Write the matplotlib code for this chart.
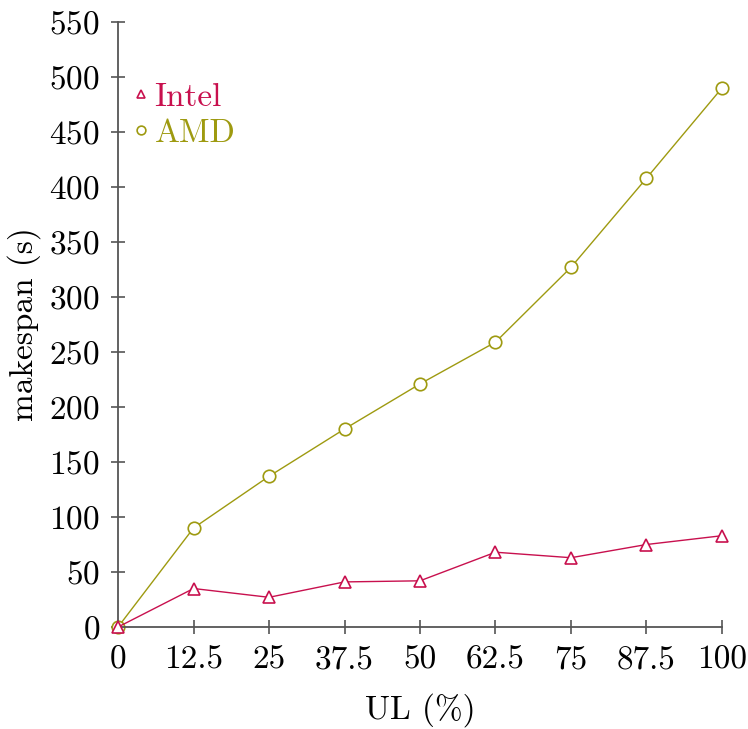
import matplotlib
matplotlib.use("Agg")
import matplotlib.pyplot as plt

ul = [0, 12.5, 25, 37.5, 50, 62.5, 75, 87.5, 100]
intel = [0, 35, 27, 41, 42, 68, 63, 75, 83]
amd = [0, 90, 137, 180, 221, 259, 327, 408, 490]
xtick_labels = ["0", "12.5", "25", "37.5", "50", "62.5", "75", "87.5", "100"]
yticks = list(range(0, 551, 50))

plt.rcParams['font.family'] = ['cmr10', 'DejaVu Serif']
plt.rcParams['mathtext.fontset'] = 'cm'
plt.rcParams['axes.formatter.use_mathtext'] = True

intel_c = '#c8104e'
amd_c = '#9e9a10'

fig = plt.figure(figsize=(7.48, 7.29), dpi=100)
ax = fig.add_axes([0.1578, 0.1399, 0.8074, 0.8299])

ax.plot(ul, intel, color=intel_c, lw=1.0, marker='^', ms=8, mfc='white',
        mec=intel_c, mew=1.2, label='Intel', zorder=3, clip_on=False)
ax.plot(ul, amd, color=amd_c, lw=1.0, marker='o', ms=9, mfc='white',
        mec=amd_c, mew=1.2, label='AMD', zorder=2, clip_on=False)

ax.set_xlim(0, 100)
ax.set_ylim(0, 550)
ax.set_xticks(ul)
ax.set_xticklabels(xtick_labels)
ax.set_yticks(yticks)
for s in ['top', 'right']:
    ax.spines[s].set_visible(False)
for s in ['left', 'bottom']:
    ax.spines[s].set_color('#555555')
    ax.spines[s].set_linewidth(1.3)
ax.tick_params(direction='inout', length=10, width=1.2, color='#555555',
               labelsize=24, pad=8)
ax.set_xlabel('UL (%)', fontsize=24, labelpad=14)
ax.set_ylabel('makespan (s)', fontsize=24, labelpad=6)

leg = ax.legend(loc='upper left', bbox_to_anchor=(-0.025, 0.95), frameon=False,
                fontsize=24, handlelength=0.5, handletextpad=0.15,
                labelspacing=0.2, markerscale=0.7, borderaxespad=0.5)
for t, c in zip(leg.get_texts(), [intel_c, amd_c]):
    t.set_color(c)
for h in leg.legend_handles:
    h.set_linestyle('none')

fig.savefig('out.png', dpi=100)
